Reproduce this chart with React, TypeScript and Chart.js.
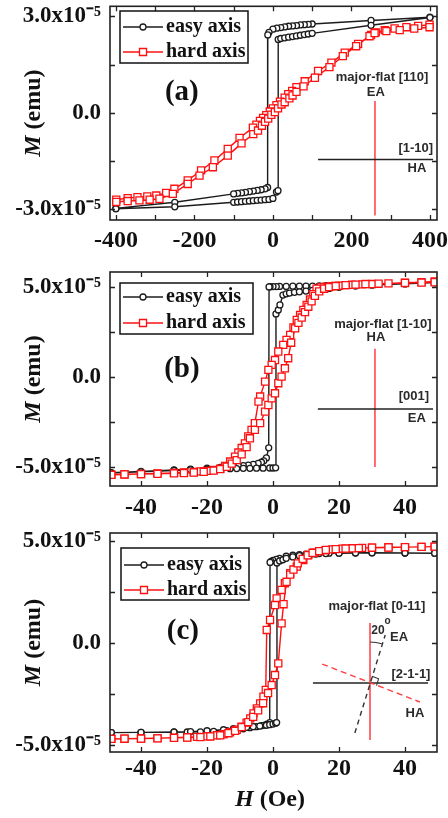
import React, { useEffect, useRef } from 'react';
import { Chart, registerables } from 'chart.js';
Chart.register(...registerables);

type Pt = [number, number];

// ---------- series names ----------
const seriesNames = ['easy axis', 'hard axis'];

// ---------- Panel (a): H (Oe), M (x1e-5 emu) ----------
const aEasyDown: Pt[] = [[400,2.97],[250,2.87],[100,2.76],[90,2.75],[80,2.74],[70,2.73],[60,2.71],[50,2.70],[40,2.69],[30,2.67],[20,2.65],[10,2.63],[0,2.60],[-10,2.50],[-13,2.42],[-13.5,-2.32],[-20,-2.36],[-30,-2.39],[-40,-2.41],[-50,-2.43],[-60,-2.45],[-70,-2.47],[-80,-2.49],[-90,-2.50],[-100,-2.52],[-250,-2.78],[-400,-2.97]];
const aEasyUp: Pt[] = [[-400,-2.98],[-250,-2.92],[-100,-2.78],[-90,-2.77],[-80,-2.76],[-70,-2.75],[-60,-2.74],[-50,-2.73],[-40,-2.72],[-30,-2.71],[-20,-2.70],[-10,-2.69],[0,-2.66],[9,-2.46],[13,-2.42],[13.5,2.28],[20,2.31],[30,2.33],[40,2.35],[50,2.37],[60,2.39],[70,2.41],[80,2.43],[90,2.45],[100,2.47],[250,2.72],[400,2.96]];
const aHardDown: Pt[] = [[399,2.74],[370,2.70],[340,2.66],[310,2.62],[285,2.57],[262,2.50],[250,2.42],[217,2.14],[183,1.87],[149,1.56],[115,1.30],[81,0.98],[60,0.80],[49,0.68],[39,0.58],[30,0.47],[18,0.35],[9,0.24],[0,0.14],[-8,0.04],[-17,-0.07],[-25,-0.16],[-33,-0.25],[-42,-0.37],[-51,-0.46],[-85,-0.78],[-115,-1.12],[-149,-1.48],[-183,-1.79],[-217,-2.10],[-251,-2.36],[-272,-2.49],[-297,-2.57],[-320,-2.60],[-345,-2.62],[-370,-2.65],[-399,-2.70]];
const aHardUp: Pt[] = [[-399,-2.77],[-370,-2.74],[-340,-2.72],[-314,-2.70],[-289,-2.67],[-255,-2.52],[-217,-2.21],[-187,-1.95],[-153,-1.69],[-115,-1.33],[-80,-0.95],[-50,-0.66],[-38,-0.55],[-28,-0.40],[-20,-0.28],[-12,-0.18],[-4,-0.06],[5,0.02],[13,0.14],[22,0.26],[30,0.33],[42,0.45],[50,0.54],[60,0.65],[78,0.82],[107,1.09],[144,1.42],[178,1.76],[212,2.07],[246,2.38],[259,2.48],[289,2.54],[323,2.57],[360,2.62],[399,2.66]];

// ---------- Panel (b) ----------
const bEasyDown: Pt[] = [[49,5.24],[40,5.18],[30,5.14],[25,5.11],[20,5.09],[18,5.08],[16,5.07],[14,5.06],[12,5.05],[10,5.05],[8,5.04],[6,5.04],[4,5.03],[2,5.03],[1,5.02],[0,5.02],[-0.9,5.01],[-1.2,5.00],[-1.3,-3.94],[-2,-4.5],[-2.8,-4.66],[-3.5,-4.74],[-4.5,-4.8],[-6,-4.86],[-7.5,-4.9],[-9,-4.93],[-10.5,-4.96],[-12,-4.98],[-14,-5.0],[-16,-5.03],[-20,-5.07],[-25,-5.12],[-30,-5.17],[-40,-5.25],[-49,-5.32]];
const bEasyUp: Pt[] = [[-49,-5.34],[-40,-5.27],[-30,-5.2],[-25,-5.16],[-20,-5.13],[-16,-5.11],[-13,-5.1],[-11,-5.09],[-9,-5.08],[-7,-5.08],[-5,-5.07],[-3,-5.07],[-1,-5.06],[0,-5.06],[0.8,-5.05],[0.9,3.5],[1.6,3.72],[2.1,4.0],[3,4.55],[4,4.62],[5,4.66],[6.5,4.7],[8,4.73],[10,4.77],[12,4.81],[14,4.86],[17,4.92],[20,4.98],[25,5.05],[30,5.1],[40,5.17],[49,5.24]];
const bHardDown: Pt[] = [[49,5.30],[45,5.27],[40,5.24],[35,5.2],[30,5.16],[27,5.14],[24,5.12],[22,5.1],[20,5.07],[18,5.04],[16,5.01],[14.5,4.97],[13.2,4.9],[12.2,4.6],[11.2,4.3],[10.2,4.0],[9.2,3.72],[8.2,3.44],[7.2,3.17],[6.2,2.75],[5.2,2.33],[4.1,2.06],[3.1,1.78],[1.6,1.41],[0.6,0.94],[-0.4,0.67],[-1.4,0.39],[-2.4,-0.26],[-3.9,-1.09],[-4.4,-1.37],[-5.5,-2.57],[-6.5,-2.94],[-7.5,-3.31],[-8.5,-3.69],[-9.5,-3.95],[-10.5,-4.2],[-11.5,-4.43],[-13,-4.7],[-14.5,-4.95],[-16,-5.1],[-18,-5.17],[-20,-5.22],[-22,-5.25],[-24,-5.28],[-27,-5.31],[-30,-5.33],[-35,-5.36],[-40,-5.39],[-45,-5.41],[-49,-5.43]];
const bHardUp: Pt[] = [[-49,-5.44],[-45,-5.42],[-40,-5.40],[-35,-5.38],[-30,-5.36],[-27,-5.34],[-24,-5.31],[-21,-5.27],[-18,-5.2],[-16,-5.12],[-14,-4.99],[-12.5,-4.82],[-11,-4.62],[-9.5,-4.3],[-8,-3.9],[-7,-3.41],[-5.5,-2.94],[-3.9,-2.57],[-2.4,-1.93],[-1.4,-1.56],[-0.4,-1.19],[0.6,-0.91],[1.6,-0.35],[2.6,0.02],[3.6,0.48],[4.6,1.04],[5.5,1.9],[6.7,2.7],[7.7,3.0],[8.7,3.3],[9.7,3.6],[10.7,3.9],[11.7,4.2],[12.7,4.5],[14,4.75],[15.5,4.9],[17,4.99],[19,5.05],[22,5.1],[25,5.13],[28,5.16],[32,5.18],[40,5.22],[45,5.24],[49,5.26]];

// ---------- Panel (c) ----------
const cEasyDown: Pt[] = [[49,4.40],[40,4.41],[30,4.42],[25,4.42],[20,4.41],[17,4.40],[14,4.38],[12,4.37],[10,4.35],[8,4.33],[6,4.30],[4,4.25],[2,4.15],[1,4.10],[0,4.05],[-0.6,4.0],[-0.9,3.95],[-1.0,-3.9],[-1.8,-3.98],[-2.5,-4.02],[-3.5,-4.05],[-5,-4.1],[-7,-4.15],[-9,-4.2],[-11,-4.25],[-14,-4.3],[-18,-4.33],[-22,-4.35],[-26,-4.36],[-30,-4.37],[-40,-4.38],[-49,-4.39]];
const cEasyUp: Pt[] = [[-49,-4.39],[-40,-4.38],[-30,-4.36],[-25,-4.34],[-20,-4.3],[-15,-4.25],[-12,-4.2],[-10,-4.17],[-8,-4.13],[-6,-4.1],[-4,-4.07],[-2,-4.03],[-1,-4.0],[0,-3.97],[0.8,-3.93],[1.1,-3.9],[1.2,3.92],[2,4.02],[3,4.08],[4,4.15],[6,4.22],[8,4.28],[10,4.32],[13,4.36],[16,4.38],[20,4.40],[25,4.41],[30,4.42],[40,4.41],[49,4.40]];
const cHardDown: Pt[] = [[49,4.72],[45,4.71],[40,4.70],[35,4.69],[30,4.67],[27,4.66],[24,4.64],[21,4.62],[18,4.59],[16,4.55],[14,4.5],[12.5,4.42],[10.7,4.31],[9.2,4.07],[7.2,3.74],[5.2,3.42],[3.6,2.93],[2.6,2.6],[1.1,2.19],[0.6,1.86],[-0.9,1.13],[-1.9,0.64],[-2.2,-2.3],[-2.9,-2.63],[-3.9,-2.96],[-4.9,-3.2],[-5.9,-3.45],[-6.9,-3.69],[-8,-3.9],[-9.5,-4.1],[-11,-4.25],[-13,-4.38],[-15,-4.47],[-17,-4.52],[-20,-4.57],[-23,-4.6],[-26,-4.62],[-30,-4.64],[-35,-4.66],[-40,-4.68],[-45,-4.69],[-49,-4.70]];
const cHardUp: Pt[] = [[-49,-4.70],[-45,-4.69],[-40,-4.68],[-35,-4.67],[-30,-4.65],[-26,-4.63],[-22,-4.61],[-19,-4.58],[-16,-4.52],[-13.5,-4.42],[-11.5,-4.3],[-9.5,-4.12],[-7.5,-3.88],[-6,-3.62],[-4.5,-3.3],[-3,-2.95],[-1.5,-2.45],[-0.4,-2.06],[0.6,-1.57],[1.6,-1.0],[2.6,0.96],[3.2,1.9],[4.1,3.0],[5.2,3.35],[6.2,3.6],[7.5,3.9],[9,4.12],[10.5,4.3],[12,4.42],[14,4.5],[16,4.56],[19,4.6],[22,4.63],[26,4.65],[30,4.67],[35,4.68],[40,4.70],[45,4.71],[49,4.72]];

// ---------- axes ----------
const aXTicks = [-400, -300, -200, -100, 0, 100, 200, 300, 400];
const aXLabelVals = [-400, -200, 0, 200, 400];
const bcXTicks = [-40, -20, 0, 20, 40];
const bcXLabelVals = [-40, -20, 0, 20, 40];
const aYTicks = [-3, -1.5, 0, 1.5, 3];
const aYLabelVals = [-3, 0, 3];
const aYLabelText = ['-3.0x10\u207B\u2075', '0.0', '3.0x10\u207B\u2075'];
const bcYTicks = [-5, -2.5, 0, 2.5, 5];
const bcYLabelVals = [-5, 0, 5];
const bcYLabelText = ['-5.0x10\u207B\u2075', '0.0', '5.0x10\u207B\u2075'];
const panelLabels = ['(a)', '(b)', '(c)'];
const yTitleMain = 'M';
const yTitleUnit = ' (emu)';
const xTitleMain = 'H';
const xTitleUnit = ' (Oe)';

// ---------- inset annotations (data units) ----------
type Txt = { t: string; x: number; y: number; align?: CanvasTextAlign; size?: number };
type Ln = { x1: number; y1: number; x2: number; y2: number; color: string; dash?: number[] };
const aInsetText: Txt[] = [
  { t: 'major-flat [110]', x: 278, y: 1.11 },
  { t: 'EA', x: 262, y: 0.62 },
  { t: '[1-10]', x: 408, y: -1.1, align: 'right' },
  { t: 'HA', x: 367, y: -1.73 },
];
const aInsetLines: Ln[] = [
  { x1: 260, y1: 0.37, x2: 260, y2: -3.19, color: '#ff3030' },
  { x1: 115, y1: -1.45, x2: 408, y2: -1.45, color: '#222' },
];
const bInsetText: Txt[] = [
  { t: 'major-flat [1-10]', x: 33.3, y: 2.94 },
  { t: 'HA', x: 31.2, y: 2.22 },
  { t: '[001]', x: 47.3, y: -1.11, align: 'right' },
  { t: 'EA', x: 43.6, y: -2.33 },
];
const bInsetLines: Ln[] = [
  { x1: 30.9, y1: 1.56, x2: 30.9, y2: -5.0, color: '#ff3030' },
  { x1: 13.6, y1: -1.78, x2: 48.5, y2: -1.78, color: '#222' },
];
const cInsetText: Txt[] = [
  { t: 'major-flat [0-11]', x: 31.5, y: 1.81 },
  { t: '20', x: 31.8, y: 0.59, size: 12 },
  { t: 'o', x: 34.7, y: 1.05, size: 10 },
  { t: 'EA', x: 38.2, y: 0.25 },
  { t: '[2-1-1]', x: 41.8, y: -1.52 },
  { t: 'HA', x: 43.0, y: -3.43 },
];
const cInsetLines: Ln[] = [
  { x1: 29.4, y1: 0.98, x2: 29.4, y2: -4.75, color: '#ff3030' },
  { x1: 12.1, y1: -1.96, x2: 47.0, y2: -1.96, color: '#222' },
  { x1: 14.9, y1: -1.03, x2: 44.5, y2: -2.89, color: '#ff4040', dash: [6, 4] },
  { x1: 24.8, y1: -4.41, x2: 34.0, y2: 0.39, color: '#333', dash: [5, 4] },
];

const RED = '#ff1010';
const BLACK = '#1c1c1c';
const SERIF = "'Liberation Serif', 'Times New Roman', serif";
const SANS = "'Liberation Sans', Arial, sans-serif";

type Panel = {
  key: string; top: number; h: number; padTop: number; xAxisH: number; xPad: number;
  xMin: number; xMax: number; xTicks: number[]; xLabelVals: number[];
  yMin: number; yMax: number; yTicks: number[]; yLabelVals: number[]; yLabelText: string[];
  easy: Pt[][]; hard: Pt[][]; label: string; labelPos: [number, number];
  legend: { x: number; y: number; w: number; h: number; r1: number; r2: number };
  texts: Txt[]; lines: Ln[]; xTitle: boolean; extras?: boolean;
};

const panels: Panel[] = [
  { key: 'a', top: 0, h: 262, padTop: 5, xAxisH: 42, xPad: 6, xMin: -415, xMax: 418, xTicks: aXTicks, xLabelVals: aXLabelVals,
    yMin: -3.33, yMax: 3.31, yTicks: aYTicks, yLabelVals: aYLabelVals, yLabelText: aYLabelText,
    easy: [aEasyDown, aEasyUp], hard: [aHardDown, aHardUp], label: panelLabels[0], labelPos: [-232, 0.62],
    legend: { x: 120, y: 11, w: 128, h: 52, r1: 16, r2: 41 }, texts: aInsetText, lines: aInsetLines, xTitle: false },
  { key: 'b', top: 262, h: 258, padTop: 10, xAxisH: 34, xPad: 7, xMin: -49.4, xMax: 49.7, xTicks: bcXTicks, xLabelVals: bcXLabelVals,
    yMin: -6.06, yMax: 5.83, yTicks: bcYTicks, yLabelVals: bcYLabelVals, yLabelText: bcYLabelText,
    easy: [bEasyDown, bEasyUp], hard: [bHardDown, bHardUp], label: panelLabels[1], labelPos: [-27.6, 0.39],
    legend: { x: 120, y: 21, w: 133, h: 51, r1: 14, r2: 40 }, texts: bInsetText, lines: bInsetLines, xTitle: false },
  { key: 'c', top: 520, h: 298, padTop: 13, xAxisH: 66, xPad: 2, xMin: -49.4, xMax: 49.7, xTicks: bcXTicks, xLabelVals: bcXLabelVals,
    yMin: -5.34, yMax: 5.39, yTicks: bcYTicks, yLabelVals: bcYLabelVals, yLabelText: bcYLabelText,
    easy: [cEasyDown, cEasyUp], hard: [cHardDown, cHardUp], label: panelLabels[2], labelPos: [-27.3, 0.54],
    legend: { x: 121, y: 28, w: 128, h: 52, r1: 17, r2: 42 }, texts: cInsetText, lines: cInsetLines, xTitle: true, extras: true },
];

function drawMarker(ctx: CanvasRenderingContext2D, kind: string, x: number, y: number, color: string) {
  ctx.save();
  ctx.fillStyle = '#fff';
  ctx.strokeStyle = color;
  ctx.lineWidth = 1.3;
  ctx.setLineDash([]);
  ctx.beginPath();
  if (kind === 'circle') ctx.arc(x, y, 3, 0, Math.PI * 2);
  else ctx.rect(x - 3.5, y - 3.5, 7, 7);
  ctx.fill();
  ctx.stroke();
  ctx.restore();
}

function drawTwoPart(ctx: CanvasRenderingContext2D, a: string, b: string, cx: number, cy: number, size: number) {
  ctx.font = `italic bold ${size}px ${SERIF}`;
  const wa = ctx.measureText(a).width;
  ctx.font = `bold ${size}px ${SERIF}`;
  const wb = ctx.measureText(b).width;
  const x0 = cx - (wa + wb) / 2;
  ctx.textAlign = 'left';
  ctx.textBaseline = 'middle';
  ctx.font = `italic bold ${size}px ${SERIF}`;
  ctx.fillText(a, x0, cy);
  ctx.font = `bold ${size}px ${SERIF}`;
  ctx.fillText(b, x0 + wa, cy);
}

function makeDecor(p: Panel) {
  return {
    id: 'decor_' + p.key,
    afterDraw(chart: any) {
      const ctx: CanvasRenderingContext2D = chart.ctx;
      const ca = chart.chartArea;
      const xs = chart.scales.x;
      const ys = chart.scales.y;
      ctx.save();
      // frame
      ctx.strokeStyle = '#222';
      ctx.lineWidth = 1.6;
      ctx.setLineDash([]);
      ctx.strokeRect(ca.left, ca.top, ca.right - ca.left, ca.bottom - ca.top);
      // inward ticks on all four sides
      const tl = 5;
      ctx.lineWidth = 1.3;
      ctx.beginPath();
      p.xTicks.forEach((v) => {
        const x = Math.round(xs.getPixelForValue(v)) + 0.5;
        ctx.moveTo(x, ca.bottom); ctx.lineTo(x, ca.bottom - tl);
        ctx.moveTo(x, ca.top); ctx.lineTo(x, ca.top + tl);
      });
      p.yTicks.forEach((v) => {
        const y = Math.round(ys.getPixelForValue(v)) + 0.5;
        ctx.moveTo(ca.left, y); ctx.lineTo(ca.left + tl, y);
        ctx.moveTo(ca.right, y); ctx.lineTo(ca.right - tl, y);
      });
      ctx.stroke();

      // inset lines
      p.lines.forEach((l) => {
        ctx.strokeStyle = l.color;
        ctx.lineWidth = 1.4;
        ctx.setLineDash(l.dash || []);
        ctx.beginPath();
        ctx.moveTo(xs.getPixelForValue(l.x1), ys.getPixelForValue(l.y1));
        ctx.lineTo(xs.getPixelForValue(l.x2), ys.getPixelForValue(l.y2));
        ctx.stroke();
      });
      ctx.setLineDash([]);
      if (p.extras) {
        const l0 = p.lines[0];
        const l1 = p.lines[1];
        const ix = xs.getPixelForValue(l0.x1);
        const iy = ys.getPixelForValue(l1.y1);
        ctx.strokeStyle = '#333';
        ctx.lineWidth = 1.1;
        ctx.beginPath();
        ctx.arc(ix, iy, 41, -Math.PI / 2, -Math.PI / 2 + 0.29);
        ctx.stroke();
        const u1 = [Math.sin(0.29), -Math.cos(0.29)];
        const u2 = [0.932, 0.362];
        const d = 7;
        ctx.beginPath();
        ctx.moveTo(ix + d * u1[0], iy + d * u1[1]);
        ctx.lineTo(ix + d * u1[0] + d * u2[0], iy + d * u1[1] + d * u2[1]);
        ctx.lineTo(ix + d * u2[0], iy + d * u2[1]);
        ctx.stroke();
      }
      // inset text
      ctx.fillStyle = '#2a2a2a';
      ctx.textBaseline = 'middle';
      p.texts.forEach((t) => {
        ctx.font = `bold ${t.size || 13}px ${SANS}`;
        ctx.textAlign = t.align || 'center';
        ctx.fillText(t.t, xs.getPixelForValue(t.x), ys.getPixelForValue(t.y));
      });

      // panel label
      ctx.fillStyle = '#111';
      ctx.font = `bold 29px ${SERIF}`;
      ctx.textAlign = 'center';
      ctx.fillText(p.label, xs.getPixelForValue(p.labelPos[0]), ys.getPixelForValue(p.labelPos[1]));

      // legend
      const lg = p.legend;
      ctx.strokeStyle = '#111';
      ctx.lineWidth = 1.5;
      ctx.strokeRect(lg.x, lg.y, lg.w, lg.h);
      const rows = [
        { y: lg.y + lg.r1, color: BLACK, kind: 'circle', text: seriesNames[0] },
        { y: lg.y + lg.r2, color: RED, kind: 'rect', text: seriesNames[1] },
      ];
      rows.forEach((r) => {
        ctx.strokeStyle = r.color;
        ctx.lineWidth = 1.5;
        ctx.beginPath();
        ctx.moveTo(lg.x + 3, r.y);
        ctx.lineTo(lg.x + 43, r.y);
        ctx.stroke();
        drawMarker(ctx, r.kind, lg.x + 23, r.y, r.color);
        ctx.fillStyle = '#111';
        ctx.font = `bold 20px ${SERIF}`;
        ctx.textAlign = 'left';
        ctx.textBaseline = 'middle';
        ctx.fillText(r.text, lg.x + 46, r.y);
      });

      // y title
      ctx.fillStyle = '#111';
      ctx.save();
      ctx.translate(34, (ca.top + ca.bottom) / 2);
      ctx.rotate(-Math.PI / 2);
      drawTwoPart(ctx, yTitleMain, yTitleUnit, 0, 0, 24);
      ctx.restore();
      if (p.xTitle) {
        drawTwoPart(ctx, xTitleMain, xTitleUnit, 270, 280, 24);
      }
      ctx.restore();
    },
  };
}

function PanelChart({ p }: { p: Panel }) {
  const ref = useRef<HTMLCanvasElement>(null);
  useEffect(() => {
    if (!ref.current) return;
    const mk = (pts: Pt[][]) => pts.flat().map(([x, y]) => ({ x, y }));
    const chart = new Chart(ref.current, {
      type: 'scatter',
      data: {
        datasets: [
          {
            label: seriesNames[1], data: mk(p.hard), showLine: true, borderColor: RED, borderWidth: 1.4,
            pointStyle: 'rect', pointRadius: 5, pointBorderWidth: 1.3, pointBorderColor: RED,
            pointBackgroundColor: '#fff', tension: 0,
          },
          {
            label: seriesNames[0], data: mk(p.easy), showLine: true, borderColor: BLACK, borderWidth: 1.4,
            pointStyle: 'circle', pointRadius: 3, pointBorderWidth: 1.3, pointBorderColor: BLACK,
            pointBackgroundColor: '#fff', tension: 0,
          },
        ],
      },
      options: {
        animation: false,
        responsive: false,
        maintainAspectRatio: false,
        devicePixelRatio: 1,
        layout: { padding: { left: 0, right: 11, top: p.padTop, bottom: 0 } },
        plugins: { legend: { display: false }, tooltip: { enabled: false } },
        scales: {
          x: {
            type: 'linear', min: p.xMin, max: p.xMax,
            afterBuildTicks: (s: any) => { s.ticks = p.xTicks.map((v) => ({ value: v })); },
            afterFit: (s: any) => { s.height = p.xAxisH; s.paddingLeft = 0; s.paddingRight = 0; },
            grid: { display: false, drawTicks: false },
            border: { display: false },
            ticks: {
              autoSkip: false, maxRotation: 0, minRotation: 0, padding: p.xPad, color: '#111',
              font: { family: SERIF, size: 24, weight: 'bold' },
              callback: (v: any) => (p.xLabelVals.indexOf(Number(v)) >= 0 ? String(v) : ''),
            },
          },
          y: {
            type: 'linear', min: p.yMin, max: p.yMax,
            afterBuildTicks: (s: any) => { s.ticks = p.yTicks.map((v) => ({ value: v })); },
            afterFit: (s: any) => { s.width = 110; s.paddingTop = 0; s.paddingBottom = 0; },
            grid: { display: false, drawTicks: false },
            border: { display: false },
            ticks: {
              autoSkip: false, padding: 9, color: '#111',
              font: { family: SERIF, size: 23, weight: 'bold' },
              callback: (v: any) => {
                const i = p.yLabelVals.indexOf(Number(v));
                return i >= 0 ? p.yLabelText[i] : '';
              },
            },
          },
        },
      } as any,
      plugins: [makeDecor(p)],
    });
    return () => chart.destroy();
  }, [p]);
  return (
    <canvas
      ref={ref}
      width={448}
      height={p.h}
      style={{ position: 'absolute', left: 0, top: p.top, width: 448, height: p.h }}
    />
  );
}

export default function App() {
  return (
    <div style={{ position: 'absolute', left: 0, top: 0, width: 448, height: 818, background: '#fff' }}>
      {panels.map((p) => (
        <PanelChart key={p.key} p={p} />
      ))}
    </div>
  );
}
